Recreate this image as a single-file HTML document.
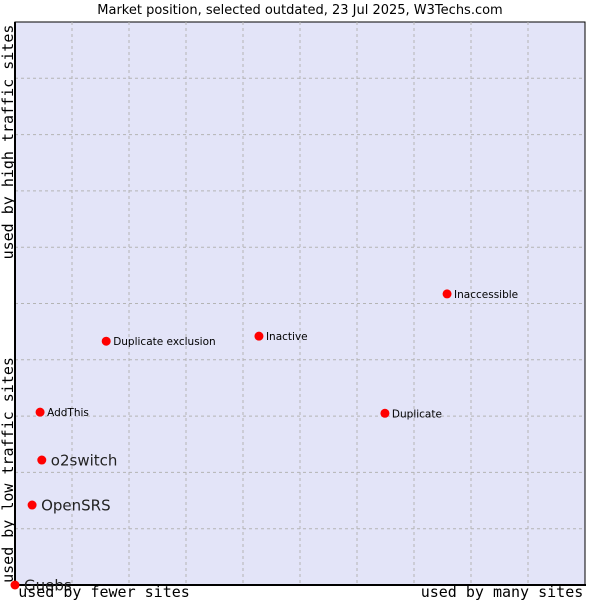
<!DOCTYPE html>
<html><head><meta charset="utf-8"><style>
body{margin:0;background:#fff;}
svg{display:block;font-family:"DejaVu Sans","Liberation Sans",sans-serif;}
</style></head><body>
<svg id="chart" width="600" height="600" viewBox="0 0 600 600">
<text x="300" y="14" text-anchor="middle" font-size="13" fill="#000">Market position, selected outdated, 23 Jul 2025, W3Techs.com</text>
<rect x="15" y="22" width="570" height="563" fill="#e3e4f8" stroke="#000" stroke-width="1"/>
<g id="grid"></g>
<line x1="15" y1="22" x2="15" y2="586" stroke="#000" stroke-width="2"/>
<line x1="14" y1="585" x2="586" y2="585" stroke="#000" stroke-width="2"/>
<g id="points"></g>
<text x="104" y="597" text-anchor="middle" font-family="'DejaVu Sans Mono','Liberation Mono',monospace" font-size="15">used by fewer sites</text>
<text x="502" y="597" text-anchor="middle" font-family="'DejaVu Sans Mono','Liberation Mono',monospace" font-size="15">used by many sites</text>
<text transform="translate(13,470) rotate(-90)" text-anchor="middle" font-family="'DejaVu Sans Mono','Liberation Mono',monospace" font-size="15">used by low traffic sites</text>
<text transform="translate(13,142) rotate(-90)" text-anchor="middle" font-family="'DejaVu Sans Mono','Liberation Mono',monospace" font-size="15">used by high traffic sites</text>
</svg>
<script>
const names=["Guebs","OpenSRS","o2switch","AddThis","Duplicate exclusion","Inactive","Duplicate","Inaccessible"];
const xValues=[0,3.0,4.7,4.4,16.0,42.8,64.9,75.8];
const yValues=[0,14.2,22.2,30.7,43.3,44.2,30.5,51.7];
const largeLabel=[true,true,true,false,false,false,false,false];
const NS="http://www.w3.org/2000/svg";
const X0=15,X1=585,Y0=585,Y1=22;
const sx=v=>X0+(X1-X0)*v/100, sy=v=>Y0-(Y0-Y1)*v/100;
const grid=document.getElementById('grid');
for(let i=1;i<10;i++){
  const lx=document.createElementNS(NS,'line');
  
  
  lx.setAttribute('x1',sx(i*10));lx.setAttribute('x2',sx(i*10));lx.setAttribute('y1',Y1);lx.setAttribute('y2',Y0);
  lx.setAttribute('stroke','#b4b4b4');lx.setAttribute('stroke-dasharray','3,3');grid.appendChild(lx);
  const ly=document.createElementNS(NS,'line');
  
  
  ly.setAttribute('y1',sy(i*10));ly.setAttribute('y2',sy(i*10));ly.setAttribute('x1',X0);ly.setAttribute('x2',X1);
  ly.setAttribute('stroke','#b4b4b4');ly.setAttribute('stroke-dasharray','3,3');grid.appendChild(ly);
}
const pts=document.getElementById('points');
names.forEach((n,i)=>{
  const x=sx(xValues[i]),y=sy(yValues[i]);
  const c=document.createElementNS(NS,'circle');
  
  
  c.setAttribute('cx',x);c.setAttribute('cy',y);c.setAttribute('r',4.5);c.setAttribute('fill','#f00');
  pts.appendChild(c);
  const t=document.createElementNS(NS,'text');
  
  
  const big=largeLabel[i];
  t.setAttribute('x',x+(big?9:7));t.setAttribute('y',y+(big?5.5:4));
  t.setAttribute('font-size',big?15:10.5);t.setAttribute('fill',big?'#222':'#000');
  t.textContent=n;pts.appendChild(t);
});
</script>
</body></html>
